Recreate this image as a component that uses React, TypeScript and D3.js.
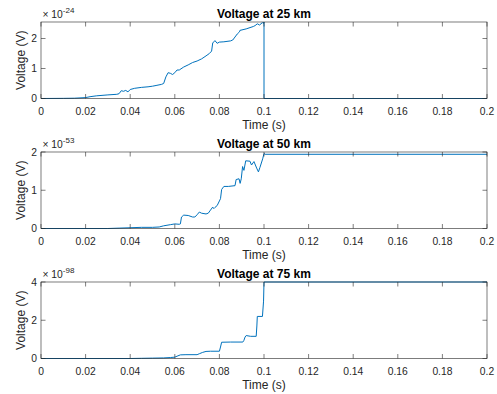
import React from "react";
import * as d3 from "d3";

const xTicks = [0, 0.02, 0.04, 0.06, 0.08, 0.1, 0.12, 0.14, 0.16, 0.18, 0.2];
const xTickLabels = ["0", "0.02", "0.04", "0.06", "0.08", "0.1", "0.12", "0.14", "0.16", "0.18", "0.2"];

const titles = ["Voltage at 25 km", "Voltage at 50 km", "Voltage at 75 km"];
const exponents = ["-24", "-53", "-98"];
const yMaxes = [2.55, 2, 4];
const yTicksList = [[0, 1, 2], [0, 1, 2], [0, 2, 4]];

const t25 = [0, 0.01, 0.015, 0.02, 0.022, 0.025, 0.03, 0.034, 0.035, 0.036, 0.037, 0.038, 0.039, 0.04, 0.042, 0.045, 0.048, 0.05, 0.052, 0.054, 0.055, 0.056, 0.057, 0.058, 0.059, 0.06, 0.061, 0.062, 0.064, 0.066, 0.068, 0.07, 0.072, 0.074, 0.0755, 0.0765, 0.077, 0.078, 0.079, 0.08, 0.082, 0.085, 0.086, 0.087, 0.088, 0.089, 0.0892, 0.092, 0.0952, 0.096, 0.097, 0.098, 0.0993, 0.0997, 0.1, 0.1, 0.2];
const v25 = [0, 0.005, 0.01, 0.03, 0.06, 0.09, 0.12, 0.14, 0.16, 0.26, 0.24, 0.27, 0.22, 0.3, 0.34, 0.37, 0.39, 0.41, 0.44, 0.47, 0.5, 0.72, 0.86, 0.84, 0.8, 0.86, 0.95, 0.95, 1.05, 1.12, 1.2, 1.25, 1.32, 1.42, 1.5, 1.58, 1.85, 1.93, 1.84, 1.88, 1.89, 1.92, 1.95, 2.05, 2.15, 2.22, 2.27, 2.32, 2.4, 2.43, 2.49, 2.45, 2.53, 2.5, 2.55, 0, 0];

const t50 = [0, 0.03, 0.035, 0.04, 0.045, 0.05, 0.053, 0.055, 0.058, 0.06, 0.062, 0.0625, 0.063, 0.064, 0.066, 0.068, 0.069, 0.07, 0.071, 0.072, 0.074, 0.075, 0.076, 0.077, 0.0775, 0.078, 0.079, 0.08, 0.0805, 0.081, 0.082, 0.084, 0.087, 0.0875, 0.0888, 0.0893, 0.0898, 0.0904, 0.091, 0.0918, 0.0937, 0.0944, 0.0955, 0.0967, 0.0975, 0.0982, 0.0994, 0.1, 0.1005, 0.2];
const v50 = [0, 0, 0.01, 0.02, 0.03, 0.03, 0.04, 0.07, 0.1, 0.12, 0.11, 0.12, 0.3, 0.35, 0.34, 0.3, 0.3, 0.36, 0.43, 0.4, 0.38, 0.4, 0.48, 0.56, 0.52, 0.55, 0.6, 0.72, 0.78, 1.02, 1.1, 1.1, 1.12, 1.28, 1.3, 1.18, 1.3, 1.62, 1.52, 1.77, 1.76, 1.66, 1.75, 1.58, 1.48, 1.6, 1.82, 1.96, 1.94, 1.94];

const t75 = [0, 0.04, 0.045, 0.05, 0.055, 0.058, 0.06, 0.061, 0.0625, 0.065, 0.07, 0.071, 0.0725, 0.074, 0.076, 0.08, 0.0805, 0.081, 0.085, 0.0905, 0.091, 0.0915, 0.092, 0.094, 0.0965, 0.0968, 0.097, 0.0993, 0.0998, 0.1, 0.2];
const v75 = [0, 0, 0.01, 0.02, 0.03, 0.05, 0.07, 0.12, 0.19, 0.2, 0.2, 0.25, 0.32, 0.37, 0.38, 0.38, 0.6, 0.85, 0.86, 0.86, 0.95, 1.12, 1.2, 1.16, 1.16, 1.7, 2.2, 2.2, 3.0, 4.0, 4.0];

const timeSeries = [t25, t50, t75];
const valueSeries = [v25, v50, v75];

const W = 497;
const H = 394;
const left = 41;
const right = 487;
const tops = [22, 152, 282];
const plotH = 76.5;
const font = "'Liberation Sans', Arial, Helvetica, sans-serif";
const axisColor = "#262626";
const lineColor = "#0072BD";

function Panel({ i }: { i: number }) {
  const top = tops[i];
  const bottom = top + plotH;
  const x = d3.scaleLinear().domain([0, 0.2]).range([left, right]);
  const y = d3.scaleLinear().domain([0, yMaxes[i]]).range([bottom, top]);
  const data = timeSeries[i].map((t, k) => [t, valueSeries[i][k]] as [number, number]);
  const line = d3.line<[number, number]>().x((d) => x(d[0])).y((d) => y(d[1]));
  const tl = 4.5;
  return (
    <g>
      <rect x={left} y={top} width={right - left} height={plotH} fill="white" />
      <path d={line(data) || ""} fill="none" stroke={lineColor} strokeWidth={1} strokeLinejoin="round" />
      <rect x={left} y={top} width={right - left} height={plotH} fill="none" stroke={axisColor} strokeWidth={0.6} />
      {xTicks.map((t, k) => (
        <g key={"x" + k}>
          <line x1={x(t)} x2={x(t)} y1={bottom} y2={bottom - tl} stroke={axisColor} strokeWidth={0.6} />
          <line x1={x(t)} x2={x(t)} y1={top} y2={top + tl} stroke={axisColor} strokeWidth={0.6} />
          <text x={x(t)} y={bottom + 16} textAnchor="middle" fontSize={10.3} fill={axisColor} fontFamily={font}>
            {xTickLabels[k]}
          </text>
        </g>
      ))}
      {yTicksList[i].map((v, k) => (
        <g key={"y" + k}>
          <line x1={left} x2={left + tl} y1={y(v)} y2={y(v)} stroke={axisColor} strokeWidth={0.6} />
          <line x1={right} x2={right - tl} y1={y(v)} y2={y(v)} stroke={axisColor} strokeWidth={0.6} />
          <text x={left - 4} y={y(v) + 3.7} textAnchor="end" fontSize={10.3} fill={axisColor} fontFamily={font}>
            {String(v)}
          </text>
        </g>
      ))}
      <text x={(left + right) / 2} y={top - 4} textAnchor="middle" fontSize={12} fontWeight="bold" fill="#000" fontFamily={font}>
        {titles[i]}
      </text>
      <text x={(left + right) / 2} y={bottom + 30} textAnchor="middle" fontSize={12} fill={axisColor} fontFamily={font}>
        Time (s)
      </text>
      <text
        transform={`translate(${25},${(top + bottom) / 2}) rotate(-90)`}
        textAnchor="middle"
        fontSize={12}
        fill={axisColor}
        fontFamily={font}
      >
        Voltage (V)
      </text>
      <text x={left + 1.5} y={top - 3.7} fontSize={10.3} fill={axisColor} fontFamily={font}>
        {"\u00d7 10"}
        <tspan dy={-5.5} fontSize={8}>{exponents[i]}</tspan>
      </text>
    </g>
  );
}

export default function App() {
  return (
    <svg width={W} height={H} style={{ position: "absolute", left: 0, top: 0, background: "white" }}>
      <rect x={0} y={0} width={W} height={H} fill="white" />
      {[0, 1, 2].map((i) => (
        <Panel key={i} i={i} />
      ))}
    </svg>
  );
}
